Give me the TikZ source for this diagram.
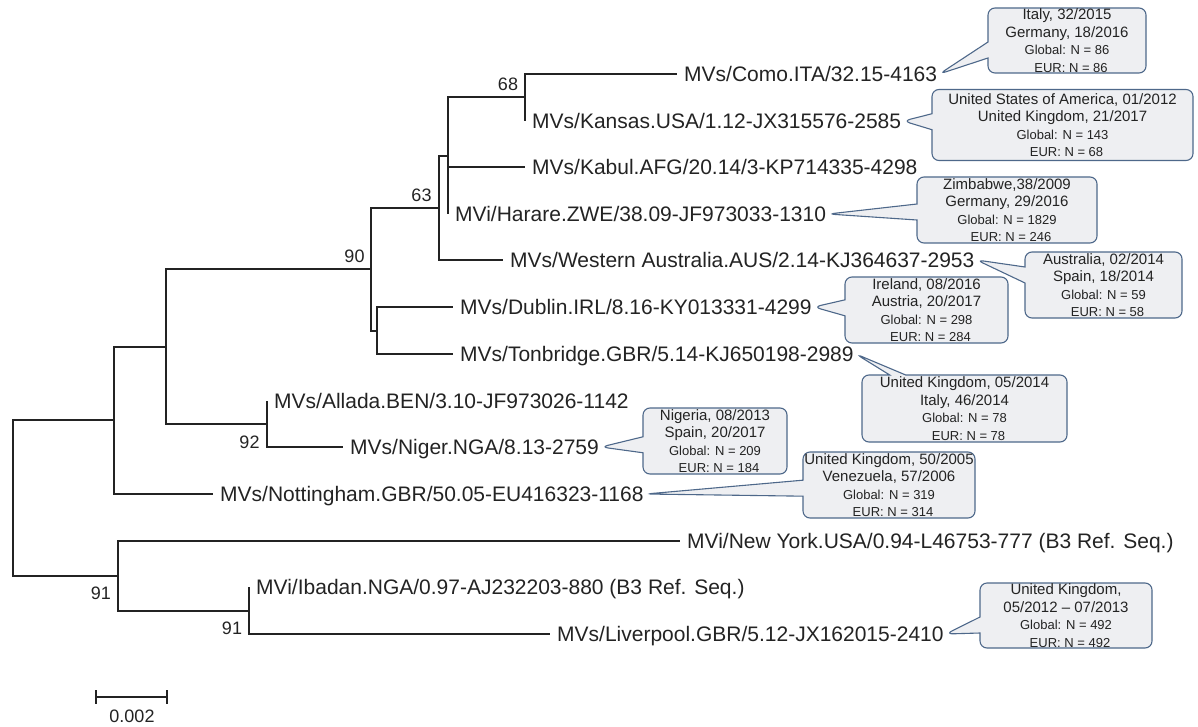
\documentclass[tikz,border=0pt]{standalone}
\usepackage{fontspec}
\setmainfont{Liberation Sans}
\usetikzlibrary{shapes.callouts}
\definecolor{cbord}{RGB}{78,104,138}
\definecolor{cfill}{RGB}{238,239,242}
\definecolor{ink}{RGB}{35,35,35}
\newcommand{\calloutsmall}{\fontsize{13}{16}\selectfont}
\begin{document}
\begin{tikzpicture}[x=1pt,y=-1pt,
  branch/.style={line width=2pt, draw=ink},
  leaf/.style={anchor=west, font=\fontsize{21}{24}\selectfont, text=ink, inner xsep=7pt, inner ysep=0pt, text height=15pt, text depth=0pt},
  boot/.style={font=\fontsize{18}{20}\selectfont, text=ink, inner sep=0pt},
  note/.style={rectangle callout, draw=cbord, fill=cfill, line width=1.1pt, rounded corners=7pt, align=center, inner sep=0pt, font=\fontsize{15}{17.5}\selectfont, text=ink, callout pointer width=16pt}
]
\useasboundingbox (0,0) rectangle (1198,727);

% internal nodes
\coordinate (R) at (13,498);
\coordinate (B) at (114,420);
\coordinate (A) at (166,346.5);
\coordinate (N90) at (371,269);
\coordinate (N63) at (439,208);
\coordinate (P) at (448,156);
\coordinate (N68) at (525,97.5);
\coordinate (DT) at (377,330.5);
\coordinate (AN) at (267,424);
\coordinate (C) at (118,576);
\coordinate (D) at (249,610.5);

% leaves
\node[leaf] (como) at (677,74) {MVs/Como.ITA/32.15-4163};
\node[leaf] (kansas) at (525,121) {MVs/Kansas.USA/1.12-JX315576-2585};
\node[leaf] (kabul) at (525,167) {MVs/Kabul.AFG/20.14/3-KP714335-4298};
\node[leaf] (harare) at (448,214) {MVi/Harare.ZWE/38.09-JF973033-1310};
\node[leaf] (waus) at (503,260) {MVs/Western Australia.AUS/2.14-KJ364637-2953};
\node[leaf] (dublin) at (453,307) {MVs/Dublin.IRL/8.16-KY013331-4299};
\node[leaf] (tonb) at (453,354) {MVs/Tonbridge.GBR/5.14-KJ650198-2989};
\node[leaf] (allada) at (267,401) {MVs/Allada.BEN/3.10-JF973026-1142};
\node[leaf] (niger) at (343,447) {MVs/Niger.NGA/8.13-2759};
\node[leaf] (nott) at (213,494) {MVs/Nottingham.GBR/50.05-EU416323-1168};
\node[leaf] (ny) at (680,541) {MVi/New York.USA/0.94-L46753-777 (B3 Ref. Seq.)};
\node[leaf] (ibadan) at (249,587) {MVi/Ibadan.NGA/0.97-AJ232203-880 (B3 Ref. Seq.)};
\node[leaf] (liver) at (550,634) {MVs/Liverpool.GBR/5.12-JX162015-2410};

% branches
\draw[branch] (R) |- (B);
\draw[branch] (R) |- (C);
\draw[branch] (B) |- (A);
\draw[branch] (B) |- (nott.west);
\draw[branch] (A) |- (N90);
\draw[branch] (A) |- (AN);
\draw[branch] (N90) |- (N63);
\draw[branch] (N90) |- (DT);
\draw[branch] (N63) |- (P);
\draw[branch] (N63) |- (waus.west);
\draw[branch] (P) |- (N68);
\draw[branch] (P) |- (kabul.west);
\draw[branch] (P) |- (harare.west);
\draw[branch] (N68) |- (como.west);
\draw[branch] (N68) |- (kansas.west);
\draw[branch] (DT) |- (dublin.west);
\draw[branch] (DT) |- (tonb.west);
\draw[branch] (AN) |- (allada.west);
\draw[branch] (AN) |- (niger.west);
\draw[branch] (C) |- (ny.west);
\draw[branch] (C) |- (D);
\draw[branch] (D) |- (ibadan.west);
\draw[branch] (D) |- (liver.west);

% bootstrap values
\node[boot] (b68) at (508,84) {68};
\node[boot] (b63) at (421.5,195) {63};
\node[boot] (b90) at (354.5,256.5) {90};
\node[boot] (b92) at (249.5,442) {92};
\node[boot] (b91a) at (101,593.5) {91};
\node[boot] (b91b) at (232,628.5) {91};

% scale bar
\coordinate (sbL) at (96,697);
\coordinate (sbR) at (167,697);
\draw[branch] (sbL) -- (sbR);
\draw[branch] (sbL) ++(0,-7) -- ++(0,14);
\draw[branch] (sbR) ++(0,-7) -- ++(0,14);
\node[boot] (sbt) at (132,716.5) {0.002};

% callouts
\node[note, minimum width=158pt, minimum height=65pt, callout absolute pointer={([xshift=-5pt]como.east)}] (c1) at (1067,40.5)
  {Italy, 32/2015\\Germany, 18/2016\\{\calloutsmall Global: N = 86}\\{\calloutsmall\hspace*{8pt}EUR: N = 86}};
\node[note, minimum width=261pt, minimum height=71pt, callout absolute pointer={([xshift=-5pt]kansas.east)}] (c2) at (1062.5,125)
  {United States of America, 01/2012\\United Kingdom, 21/2017\\{\calloutsmall Global: N = 143}\\{\calloutsmall\hspace*{8pt}EUR: N = 68}};
\node[note, minimum width=180pt, minimum height=66pt, callout absolute pointer={([xshift=-5pt]harare.east)}] (c3) at (1007,210)
  {Zimbabwe,38/2009\\Germany, 29/2016\\{\calloutsmall Global: N = 1829}\\{\calloutsmall\hspace*{8pt}EUR: N = 246}};
\node[note, minimum width=157pt, minimum height=66pt, callout absolute pointer={([xshift=-5pt]waus.east)}] (c4) at (1103.5,285)
  {Australia, 02/2014\\Spain, 18/2014\\{\calloutsmall Global: N = 59}\\{\calloutsmall\hspace*{8pt}EUR: N = 58}};
\node[note, minimum width=163pt, minimum height=66pt, callout absolute pointer={([xshift=-5pt]dublin.east)}] (c5) at (926.5,310)
  {Ireland, 08/2016\\Austria, 20/2017\\{\calloutsmall Global: N = 298}\\{\calloutsmall\hspace*{8pt}EUR: N = 284}};
\node[note, minimum width=205pt, minimum height=67pt, callout absolute pointer={([xshift=-5pt]tonb.east)}] (c6) at (964.5,408.5)
  {United Kingdom, 05/2014\\Italy, 46/2014\\{\calloutsmall Global: N = 78}\\{\calloutsmall\hspace*{8pt}EUR: N = 78}};
\node[note, minimum width=144pt, minimum height=66pt, callout absolute pointer={([xshift=-5pt]niger.east)}] (c7) at (715,441)
  {Nigeria, 08/2013\\Spain, 20/2017\\{\calloutsmall Global: N = 209}\\{\calloutsmall\hspace*{8pt}EUR: N = 184}};
\node[note, minimum width=172pt, minimum height=66pt, callout absolute pointer={([xshift=-5pt]nott.east)}] (c8) at (889,485)
  {United Kingdom, 50/2005\\Venezuela, 57/2006\\{\calloutsmall Global: N = 319}\\{\calloutsmall\hspace*{8pt}EUR: N = 314}};
\node[note, minimum width=172pt, minimum height=65pt, callout absolute pointer={([xshift=-5pt]liver.east)}] (c9) at (1066,615.5)
  {United Kingdom,\\05/2012 -- 07/2013\\{\calloutsmall Global: N = 492}\\{\calloutsmall\hspace*{8pt}EUR: N = 492}};
\end{tikzpicture}
\end{document}
